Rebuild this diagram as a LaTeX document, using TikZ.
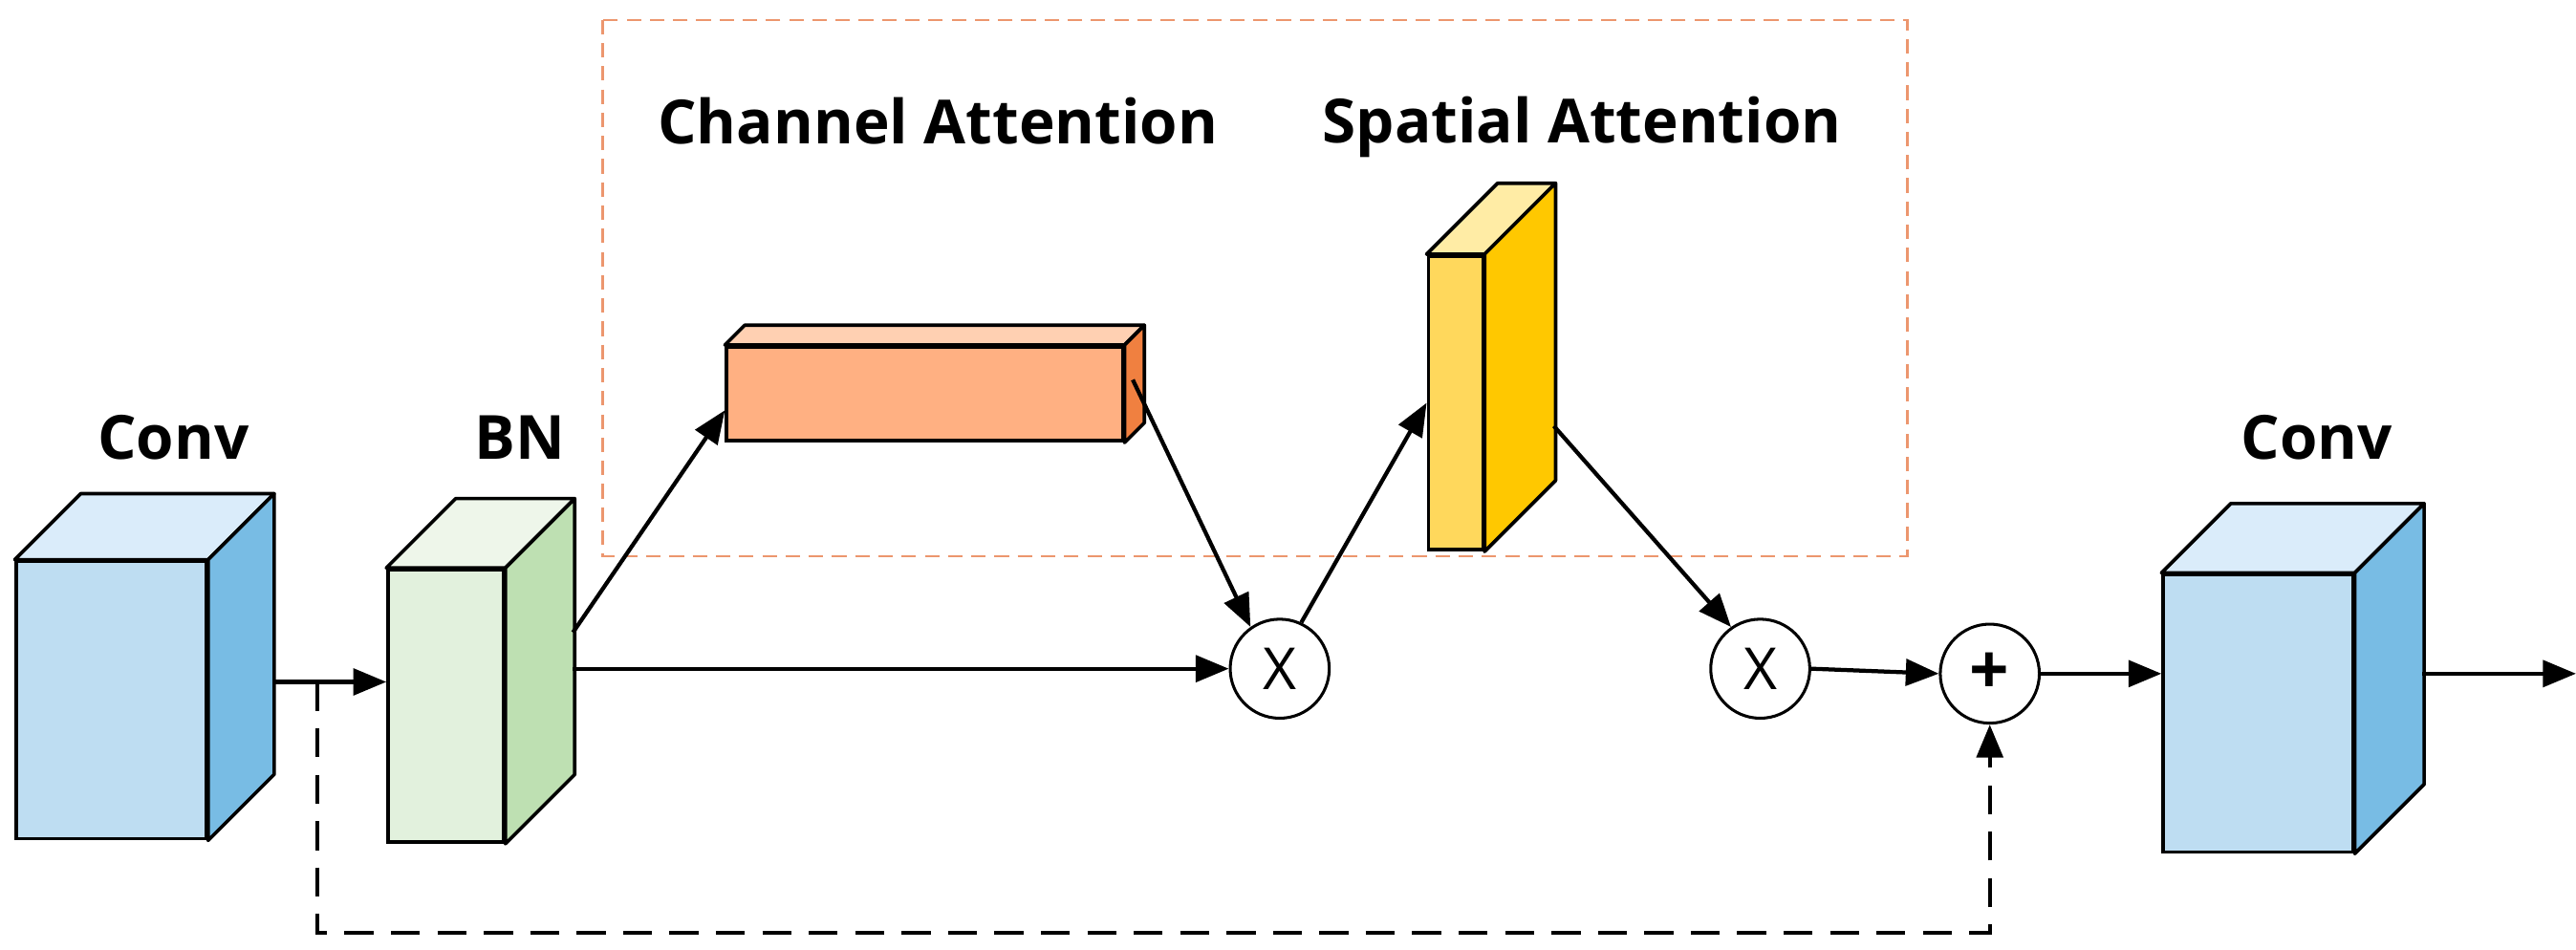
\documentclass[tikz,border=0pt]{standalone}
\usepackage{fontspec}
\setmainfont{Open Sans}
\usetikzlibrary{positioning,arrows.meta}

\definecolor{convfront}{RGB}{190,221,242}
\definecolor{convtop}{RGB}{218,236,250}
\definecolor{convside}{RGB}{120,188,228}
\definecolor{bnfront}{RGB}{226,241,221}
\definecolor{bntop}{RGB}{238,246,234}
\definecolor{bnside}{RGB}{190,224,178}
\definecolor{chfront}{RGB}{255,176,130}
\definecolor{chtop}{RGB}{255,208,178}
\definecolor{chside}{RGB}{240,128,64}
\definecolor{spfront}{RGB}{255,216,92}
\definecolor{sptop}{RGB}{255,236,165}
\definecolor{spside}{RGB}{255,200,0}
\definecolor{boxline}{RGB}{236,150,110}

% top and side faces of a block, drawn from its front node
\newcommand{\blockfaces}[4]{%
  \draw[face, fill=#3] (#1.north west) -- ++(#2,-#2) -- ([shift={(#2,-#2)}]#1.north east) -- (#1.north east) -- cycle;
  \draw[face, fill=#4] (#1.north east) -- ++(#2,-#2) -- ([shift={(#2,-#2)}]#1.south east) -- (#1.south east) -- cycle;
}

\begin{document}
\begin{tikzpicture}[x=0.02cm, y=-0.02cm,
    face/.style={draw=black, line width=1.2pt, line join=round},
    block/.style={rectangle, draw=black, line width=1.2pt, inner sep=0pt},
    op/.style={circle, draw=black, line width=1pt, fill=white, minimum size=1.2cm, inner sep=0pt, font=\fontsize{20}{22}\selectfont},
    title/.style={font=\bfseries\fontsize{21}{24}\selectfont},
    arr/.style={-{Triangle[length=4mm,width=3.2mm]}, line width=1.4pt},
    skip/.style={-{Triangle[length=4mm,width=3.2mm]}, line width=1.4pt, dash pattern=on 10pt off 6pt},
]
\useasboundingbox (0,0) rectangle (1560,575);

% attention region
\draw[boxline, line width=0.8pt, dash pattern=on 5pt off 3pt] (365,12) rectangle (1155,337);

% blocks
\node[block, fill=convfront, minimum width=2.3cm, minimum height=3.36cm] (conv1) at (67.5,424) {};
\blockfaces{conv1}{40}{convtop}{convside}
\node[block, fill=bnfront, minimum width=1.4cm, minimum height=3.3cm] (bn) at (270,427.5) {};
\blockfaces{bn}{42}{bntop}{bnside}
\node[block, fill=chfront, minimum width=4.8cm, minimum height=1.14cm] (chan) at (560,238.5) {};
\blockfaces{chan}{12}{chtop}{chside}
\node[block, fill=spfront, minimum width=0.66cm, minimum height=3.56cm] (spat) at (881.5,244) {};
\blockfaces{spat}{43}{sptop}{spside}
\node[block, fill=convfront, minimum width=2.3cm, minimum height=3.36cm] (conv2) at (1367.5,432) {};
\blockfaces{conv2}{42}{convtop}{convside}

% operators
\node[op] (mul1) at (775,405) {X};
\node[op] (mul2) at (1066,405) {X};
\node[op, font=\bfseries\fontsize{24}{26}\selectfont] (plus) at (1205,408) {+};

% titles
\node[title] (convlab1) at (105,265) {Conv};
\node[title] (bnlab) at (315,265) {BN};
\node[title] (chanlab) at (568,73) {Channel Attention};
\node[title] (spatlab) at (958,77) {Spatial Attention};
\node[title] (convlab2) at (1403,265) {Conv};

% helper points
\coordinate (c1out) at (165,413);
\coordinate (split) at (192,413);
\coordinate (dashbot) at (192,565);
\coordinate (bnout) at (347,405);
\coordinate (bnup) at (347,383);
\coordinate (chout) at (686,230);
\coordinate (spout) at (941,258);
\coordinate (c2out) at (1467,408);
\coordinate (outend) at (1560,408);

% connectors
\draw[arr] (c1out) -- (c1out -| bn.west);
\draw[skip] (split) -- (dashbot) -| (plus.south);
\draw[arr] (bnout) -- (mul1.west);
\draw[arr] (bnup) -- ([yshift=-0.2cm]chan.west);
\draw[arr] (chout) -- (mul1.125);
\draw[arr] (mul1.65) -- (spat.west);
\draw[arr] (spout) -- (mul2.125);
\draw[arr] (mul2.east) -- (plus.west);
\draw[arr] (plus.east) -- (plus.east -| conv2.west);
\draw[arr] (c2out) -- (outend);
\end{tikzpicture}
\end{document}
